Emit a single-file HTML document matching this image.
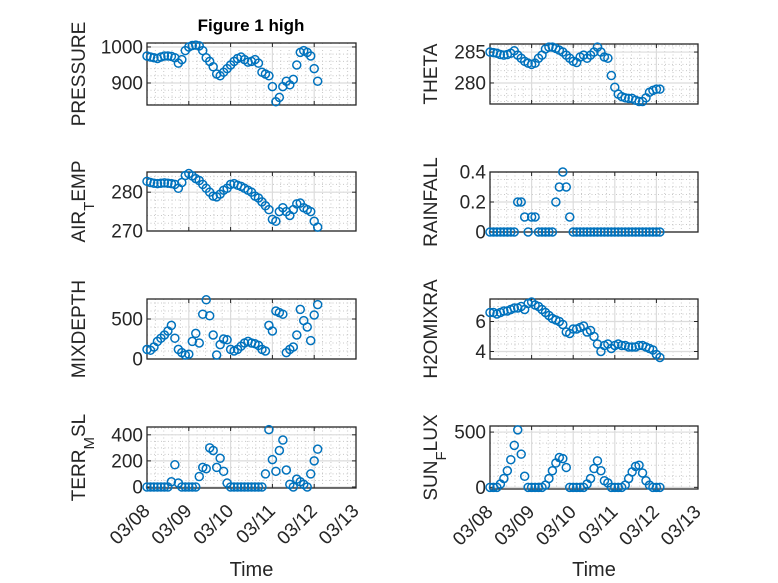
<!DOCTYPE html>
<html><head><meta charset="utf-8"><style>
body{margin:0;background:#fff}
svg{display:block;font-family:"Liberation Sans",sans-serif}
</style></head><body>
<svg id="fig" width="778" height="583" viewBox="0 0 778 583" xmlns="http://www.w3.org/2000/svg">
<rect width="778" height="583" fill="#fff"/>
<text x="251" y="31" text-anchor="middle" font-size="17" font-weight="bold" fill="#000">Figure 1 high</text>
</svg>
<script>
const hours=[0,2,4,6,8,10,12,14,16,18,20,22,24,26,28,30,32,34,36,38,40,42,44,46,48,50,52,54,56,58,60,62,64,66,68,70,72,74,76,78,80,82,84,86,88,90,92,94,96,98];
const xTickLabels=["03/08","03/09","03/10","03/11","03/12","03/13"];
const pressure=[975,972,970,968,972,975,975,974,970,955,965,990,1000,1004,1005,1003,990,970,960,945,925,920,930,940,950,960,968,972,965,958,960,965,955,930,925,920,890,848,860,890,905,895,910,950,985,990,985,975,940,905];
const airTemp=[282.8,282.5,282.3,282.2,282.3,282.4,282.3,282.2,282.0,281.0,282.5,284.3,284.8,284.2,283.5,283.0,282.0,281.0,280.0,279.0,278.8,279.5,280.5,281.0,282.0,282.2,281.8,281.5,281.0,280.5,280.0,279.0,278.5,277.5,276.5,275.5,273.0,272.5,275.0,276.0,275.0,274.0,275.5,277.0,277.2,276.0,275.5,275.0,272.5,271.0];
const mixDepth=[120,110,150,220,260,300,350,420,260,120,80,50,60,220,320,200,560,740,540,300,50,180,250,240,120,100,120,160,200,220,200,190,170,120,100,420,350,600,580,560,80,120,150,300,620,480,400,230,550,680];
const terrMsl=[0,0,0,0,0,0,0,40,170,30,0,0,0,0,0,80,150,140,300,280,150,220,120,30,0,0,0,0,0,0,0,0,0,0,100,440,210,120,280,360,130,20,0,60,40,20,0,100,200,290];
const theta=[285,284.9,284.8,284.6,284.5,284.6,284.8,285.2,284.5,284.0,283.5,283.2,283.0,283.2,284.0,284.5,285.5,285.8,285.8,285.6,285.3,285.0,284.5,284.0,283.5,283.3,284.2,284.5,284.0,284.5,285.0,285.8,285.0,284.2,284.0,281.2,279.3,278.2,277.8,277.6,277.5,277.5,277.2,277.0,277.0,277.6,278.5,278.8,279.0,279.0];
const rainfall=[0,0,0,0,0,0,0,0,0.2,0.2,0.1,0,0.1,0.1,0,0,0,0,0,0.2,0.3,0.4,0.3,0.1,0,0,0,0,0,0,0,0,0,0,0,0,0,0,0,0,0,0,0,0,0,0,0,0,0,0];
const h2oMix=[6.6,6.6,6.5,6.6,6.7,6.7,6.8,6.9,6.9,7.0,6.8,7.2,7.3,7.1,7.0,6.8,6.6,6.4,6.2,6.1,6.0,5.8,5.3,5.2,5.5,5.5,5.6,5.7,5.3,5.4,5.0,4.5,4.0,4.4,4.5,4.2,4.4,4.5,4.4,4.4,4.3,4.3,4.3,4.4,4.4,4.3,4.2,4.1,3.8,3.6];
const sunFlux=[0,0,0,30,80,150,250,380,520,300,100,0,0,0,0,0,20,80,150,220,270,260,180,0,0,0,0,0,30,80,170,240,150,60,40,0,0,0,0,20,80,140,190,200,130,60,20,0,0,0];

const NS="http://www.w3.org/2000/svg";
const svg=document.getElementById('fig');
function mk(tag,attrs,parent){const e=document.createElementNS(NS,tag);for(const k in attrs)e.setAttribute(k,attrs[k]);(parent||svg).appendChild(e);return e;}

const panels=[
 {name:'pressure',label:['PRESSURE'],data:pressure,x0:147,x1:356,y0:43,y1:105,ymin:839,ymax:1011,ticks:[900,1000],minor:20,lx:78,bottom:false},
 {name:'air-temp',label:['AIR','T','EMP'],data:airTemp,x0:147,x1:356,y0:172,y1:231,ymin:270,ymax:285.2,ticks:[270,280],minor:2,lx:78,bottom:false},
 {name:'mixdepth',label:['MIXDEPTH'],data:mixDepth,x0:147,x1:356,y0:299,y1:359,ymin:0,ymax:750,ticks:[0,500],minor:100,lx:78,bottom:false},
 {name:'terr-msl',label:['TERR','M','SL'],data:terrMsl,x0:147,x1:356,y0:427,y1:488,ymin:-8,ymax:460,ticks:[0,200,400],minor:50,lx:78,bottom:true},
 {name:'theta',label:['THETA'],data:theta,x0:490,x1:698,y0:44,y1:104,ymin:276.6,ymax:286.3,ticks:[280,285],minor:1,lx:430,bottom:false},
 {name:'rainfall',label:['RAINFALL'],data:rainfall,x0:490,x1:698,y0:172,y1:232,ymin:0,ymax:0.4,ticks:[0,0.2,0.4],minor:0.05,lx:430,bottom:false},
 {name:'h2o-mix',label:['H2OMIXRA'],data:h2oMix,x0:490,x1:698,y0:299,y1:359,ymin:3.5,ymax:7.5,ticks:[4,6],minor:0.5,lx:430,bottom:false},
 {name:'sun-flux',label:['SUN','F','LUX'],data:sunFlux,x0:490,x1:698,y0:426,y1:489,ymin:-15,ymax:555,ticks:[0,500],minor:100,lx:430,bottom:true}
];

panels.forEach(p=>{
 const g=mk('g',{});
 
 
 const xs=h=>p.x0+(h/24)/5*(p.x1-p.x0);
 const ys=v=>p.y1-(v-p.ymin)/(p.ymax-p.ymin)*(p.y1-p.y0);
 for(let d=0.2;d<5;d+=0.2){if(Math.abs(d-Math.round(d))<1e-6)continue;const x=p.x0+d/5*(p.x1-p.x0);mk('line',{x1:x,x2:x,y1:p.y0,y2:p.y1,stroke:'#c8c8c8','stroke-width':1,'stroke-dasharray':'1,2.5'},g);}
 const ms=Math.ceil(p.ymin/p.minor)*p.minor;
 for(let v=ms;v<=p.ymax+1e-9;v+=p.minor){const y=ys(v);mk('line',{x1:p.x0,x2:p.x1,y1:y,y2:y,stroke:'#c8c8c8','stroke-width':1,'stroke-dasharray':'1,2.5'},g);}
 for(let d=1;d<5;d++){const x=p.x0+d/5*(p.x1-p.x0);mk('line',{x1:x,x2:x,y1:p.y0,y2:p.y1,stroke:'#dcdcdc','stroke-width':1.2},g);}
 p.ticks.forEach(v=>{const y=ys(v);mk('line',{x1:p.x0,x2:p.x1,y1:y,y2:y,stroke:'#dcdcdc','stroke-width':1.2},g);
   mk('line',{x1:p.x0,x2:p.x0+4,y1:y,y2:y,stroke:'#262626'},g);mk('line',{x1:p.x1,x2:p.x1-4,y1:y,y2:y,stroke:'#262626'},g);
   const t=mk('text',{x:p.x0-4,y:y+6.5,'text-anchor':'end','font-size':19,fill:'#262626'},g);t.textContent=String(v);
   
   });
 for(let d=0;d<=5;d++){const x=p.x0+d/5*(p.x1-p.x0);mk('line',{x1:x,x2:x,y1:p.y1,y2:p.y1-4,stroke:'#262626'},g);mk('line',{x1:x,x2:x,y1:p.y0,y2:p.y0+4,stroke:'#262626'},g);
   if(p.bottom){const ax=x+4,ay=p.y1+24;const t=mk('text',{x:ax,y:ay,'text-anchor':'end','font-size':19,fill:'#262626',transform:`rotate(-45 ${ax} ${ay})`},g);t.textContent=xTickLabels[d];
   
   }}
 const dg=mk('g',{},g);
 p.data.forEach((v,i)=>{const c=mk('circle',{cx:xs(hours[i]),cy:ys(v),r:4,fill:'none',stroke:'#0072BD','stroke-width':1.5},dg);
   
   });
 mk('rect',{x:p.x0,y:p.y0,width:p.x1-p.x0,height:p.y1-p.y0,fill:'none',stroke:'#262626','stroke-width':1.3},g);
 g.appendChild(dg);
 const cy=(p.y0+p.y1)/2;
 const lx=p.lx+7;
 const yl=mk('text',{x:lx,y:cy,'text-anchor':'middle','font-size':19,fill:'#262626',transform:`rotate(-90 ${lx} ${cy})`},g);
 
 
 if(p.label.length===1){yl.textContent=p.label[0];}
 else{const a=mk('tspan',{},yl);a.textContent=p.label[0];const b=mk('tspan',{'baseline-shift':'sub','font-size':15},yl);b.textContent=p.label[1];const c=mk('tspan',{},yl);c.textContent=p.label[2];}
 if(p.bottom){const t=mk('text',{x:(p.x0+p.x1)/2,y:576,'text-anchor':'middle','font-size':20,fill:'#262626'},g);t.textContent='Time';
   
   }
});
</script>
</body></html>
